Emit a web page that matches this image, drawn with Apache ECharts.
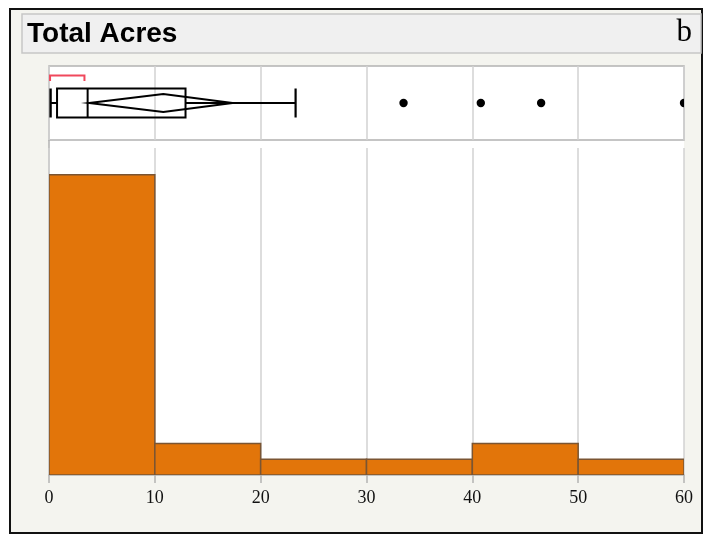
<!DOCTYPE html>
<html>
<head>
<meta charset="utf-8">
<title>Total Acres</title>
<script src="https://cdn.jsdelivr.net/npm/echarts@6/dist/echarts.min.js"></script>
<style>
  html, body { margin: 0; padding: 0; background: #ffffff; }
  #chart { width: 708px; height: 535px; }
</style>
</head>
<body>
<div id="chart"></div>
<script>
// Histogram bins of Total Acres (bin edges and counts per bin)
const binEdges = [0, 10, 20, 30, 40, 50, 60];
const binCounts = [19, 2, 1, 1, 2, 1];

// Outlier box plot: low whisker, Q1, median, Q3, high whisker
const boxQuantiles = [0.15, 0.76, 3.65, 12.9, 23.3];
// Mean confidence diamond: lower 95%, mean, upper 95%
const meanDiamond = [3.8, 10.8, 17.35];
// Shortest half bracket: start, end
const shortestHalf = [0.1, 3.35];
// Points beyond the whiskers
const outlierValues = [33.5, 40.8, 46.5, 60];

// Axis tick labels
const tickValues = [0, 10, 20, 30, 40, 50, 60];

const chart = echarts.init(document.getElementById('chart'), null, { renderer: 'canvas' });

const histData = binCounts.map((c, i) => [binEdges[i], binEdges[i + 1], c]);
const gridLineColor = '#d2d2d2';
const frameGray = '#b2b2b2';

function renderBins(params, api) {
  const lo = api.value(0), hi = api.value(1), n = api.value(2);
  const p0 = api.coord([lo, 0]);
  const p1 = api.coord([hi, n]);
  return {
    type: 'rect',
    shape: { x: p0[0], y: p1[1], width: p1[0] - p0[0], height: p0[1] - p1[1] },
    style: { fill: '#e2750a', stroke: '#7a5533', lineWidth: 1.5 }
  };
}

function renderBox(params, api) {
  const yc = api.coord([0, 0.5])[1];
  const x = v => api.coord([v, 0.5])[0];
  const boxH = 14.5, diaH = 9, ln = { stroke: '#000', lineWidth: 2, fill: null };
  const [wLo, q1, med, q3, wHi] = boxQuantiles;
  const [cLo, mean, cHi] = meanDiamond;
  const children = [
    // whiskers
    { type: 'line', shape: { x1: x(wLo), y1: yc, x2: x(q1), y2: yc }, style: ln },
    { type: 'line', shape: { x1: x(q3), y1: yc, x2: x(wHi), y2: yc }, style: ln },
    { type: 'line', shape: { x1: x(wLo), y1: yc - boxH, x2: x(wLo), y2: yc + boxH }, style: { stroke: '#000', lineWidth: 2.4 } },
    { type: 'line', shape: { x1: x(wHi), y1: yc - boxH, x2: x(wHi), y2: yc + boxH }, style: { stroke: '#000', lineWidth: 2.2 } },
    // box and median
    { type: 'rect', shape: { x: x(q1), y: yc - boxH, width: x(q3) - x(q1), height: 2 * boxH }, style: ln },
    { type: 'line', shape: { x1: x(med), y1: yc - boxH, x2: x(med), y2: yc + boxH }, style: ln },
    // mean diamond
    { type: 'polygon', shape: { points: [[x(cLo), yc], [x(mean), yc - diaH], [x(cHi), yc], [x(mean), yc + diaH]] }, style: ln },
    // shortest half bracket
    { type: 'polyline', shape: { points: [[x(shortestHalf[0]), yc - 22], [x(shortestHalf[0]), yc - 27.5], [x(shortestHalf[1]), yc - 27.5], [x(shortestHalf[1]), yc - 22]] },
      style: { stroke: '#f0485c', lineWidth: 2, fill: null } }
  ];
  return { type: 'group', children };
}

function renderOutlier(params, api) {
  const p = api.coord([api.value(0), api.value(1)]);
  return { type: 'circle', shape: { cx: p[0], cy: p[1], r: 4.2 }, style: { fill: '#000' } };
}

const option = {
  animation: false,
  backgroundColor: '#ffffff',
  graphic: [
    // outer frame
    { type: 'rect', z: -20, shape: { x: 10, y: 9, width: 692, height: 524 },
      style: { fill: '#f4f4ef', stroke: '#111', lineWidth: 2 } },
    // header band
    { type: 'rect', z: -19, shape: { x: 22, y: 14, width: 679, height: 39 },
      style: { fill: '#f0f0f0', stroke: '#c6c6c6', lineWidth: 1.5 } },
    { type: 'text', z: 5, left: 27, top: 20,
      style: { text: 'Total Acres', font: 'bold 28px "Liberation Sans", Arial, sans-serif', fill: '#000' } },
    { type: 'text', z: 5, right: 16, top: 17,
      style: { text: 'b', font: '31px "Liberation Serif", "Times New Roman", serif', fill: '#000' } },
    // white plotting surface behind both panels
    { type: 'rect', z: -18, shape: { x: 49, y: 66, width: 635, height: 409 },
      style: { fill: '#ffffff' } },
    { type: 'line', z: -17, shape: { x1: 49, y1: 140, x2: 49, y2: 475 },
      style: { stroke: frameGray, lineWidth: 1.5 } }
  ],
  grid: [
    { left: 49, right: 24, top: 66, height: 74, show: true, backgroundColor: 'transparent',
      borderColor: frameGray, borderWidth: 1.5 },
    { left: 49, right: 24, top: 148, bottom: 60 }
  ],
  xAxis: [
    { gridIndex: 0, type: 'value', min: 0, max: 60, interval: 10,
      axisLine: { show: false }, axisTick: { show: false }, axisLabel: { show: false },
      splitLine: { show: true, lineStyle: { color: gridLineColor, width: 1.5 } } },
    { gridIndex: 1, type: 'value', min: 0, max: 60, interval: 10,
      axisLine: { show: true, onZero: false, lineStyle: { color: frameGray, width: 1.5 } },
      axisTick: { show: true, length: 8, lineStyle: { color: frameGray, width: 1.5 } },
      axisLabel: { show: true, margin: 14, color: '#111', fontSize: 18,
        fontFamily: '"Liberation Serif", "Times New Roman", serif',
        formatter: v => (tickValues.indexOf(v) >= 0 ? String(v) : '') },
      splitLine: { show: true, lineStyle: { color: gridLineColor, width: 1.5 } } }
  ],
  yAxis: [
    { gridIndex: 0, type: 'value', min: 0, max: 1, show: false },
    { gridIndex: 1, type: 'value', min: 0, max: 20.7, show: false }
  ],
  series: [
    { type: 'custom', xAxisIndex: 1, yAxisIndex: 1, data: histData, renderItem: renderBins,
      encode: { x: [0, 1], y: 2 }, clip: true, z: 3 },
    { type: 'custom', xAxisIndex: 0, yAxisIndex: 0, data: [[0, 0.5]], renderItem: renderBox,
      encode: { x: 0, y: 1 }, clip: false, z: 4 },
    { type: 'custom', xAxisIndex: 0, yAxisIndex: 0, clip: true, z: 4,
      data: outlierValues.map(v => [v, 0.5]), renderItem: renderOutlier,
      encode: { x: 0, y: 1 } }
  ]
};

chart.setOption(option);
</script>
</body>
</html>
